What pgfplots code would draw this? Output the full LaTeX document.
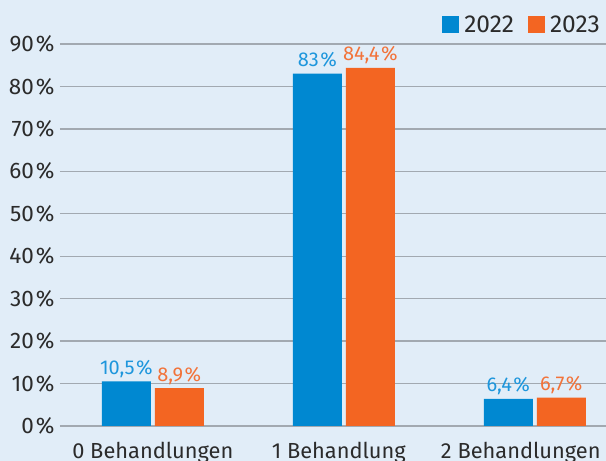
\documentclass[border=0pt]{standalone}
\usepackage{fontspec}
\setmainfont{Fira Sans}
\usepackage{pgfplots}
\pgfplotsset{compat=1.18}
\definecolor{bg}{HTML}{E1EDF8}
\definecolor{cblue}{HTML}{0088D1}
\definecolor{corange}{HTML}{F36522}
\definecolor{lblue}{HTML}{1E96DC}
\definecolor{lorange}{HTML}{F2733A}
\definecolor{gridc}{HTML}{A2A9B1}
\definecolor{txt}{HTML}{2B2B2B}
\begin{document}
\begin{tikzpicture}[x=1pt,y=1pt]
\fill[bg] (0,0) rectangle (606,461);
\useasboundingbox (0,0) rectangle (606,461);
\begin{axis}[
  at={(60pt,35pt)}, anchor=south west,
  scale only axis, width=546pt, height=382pt,
  xmin=-0.486, xmax=2.373, ymin=0, ymax=90,
  axis line style={draw=none},
  ybar=4pt, bar width=49pt,
  ytick={0,10,...,90}, xtick={0,1,2},
  xticklabels={0 Behandlungen,1 Behandlung\hspace*{10pt},2 Behandlungen\hspace*{28pt}},
  ymajorgrids, grid style={gridc, line width=1.3pt},
  tick style={draw=none},
  /pgf/number format/assume math mode=true,
  yticklabel={\pgfmathprintnumber{\tick}\hspace{2pt}\%},
  yticklabel style={font=\fontsize{22.5}{24}\selectfont, text=txt, anchor=east, xshift=-2pt},
  xticklabel style={font=\fontsize{21.8}{24}\selectfont, text=txt, anchor=base, yshift=-28pt, inner sep=0pt},
  nodes near coords={\pgfmathprintnumber[use comma]{\pgfplotspointmeta}\hspace{1.5pt}\%},
  nodes near coords style={font=\fontsize{20}{21}\selectfont, anchor=base, yshift=7pt, inner sep=0pt},
  legend columns=2,
  legend style={at={(1,1)}, anchor=south east, draw=none, fill=none, font=\fontsize{24.5}{26}\selectfont, text=txt, yshift=6pt, xshift=2pt,
    /tikz/every even column/.append style={column sep=9pt},
    nodes={inner xsep=5pt}},
  legend image code/.code={\fill[#1] (0pt,-8.5pt) rectangle (17pt,8.5pt);},
  clip=false,
]
\addplot[fill=cblue, draw=none, nodes near coords style={text=lblue}] coordinates {(0,10.5) (1,83) (2,6.4)};
\addplot[fill=corange, draw=none, nodes near coords style={text=lorange}] coordinates {(0,8.9) (1,84.4) (2,6.7)};
\legend{2022,2023}
\end{axis}
\end{tikzpicture}
\end{document}
